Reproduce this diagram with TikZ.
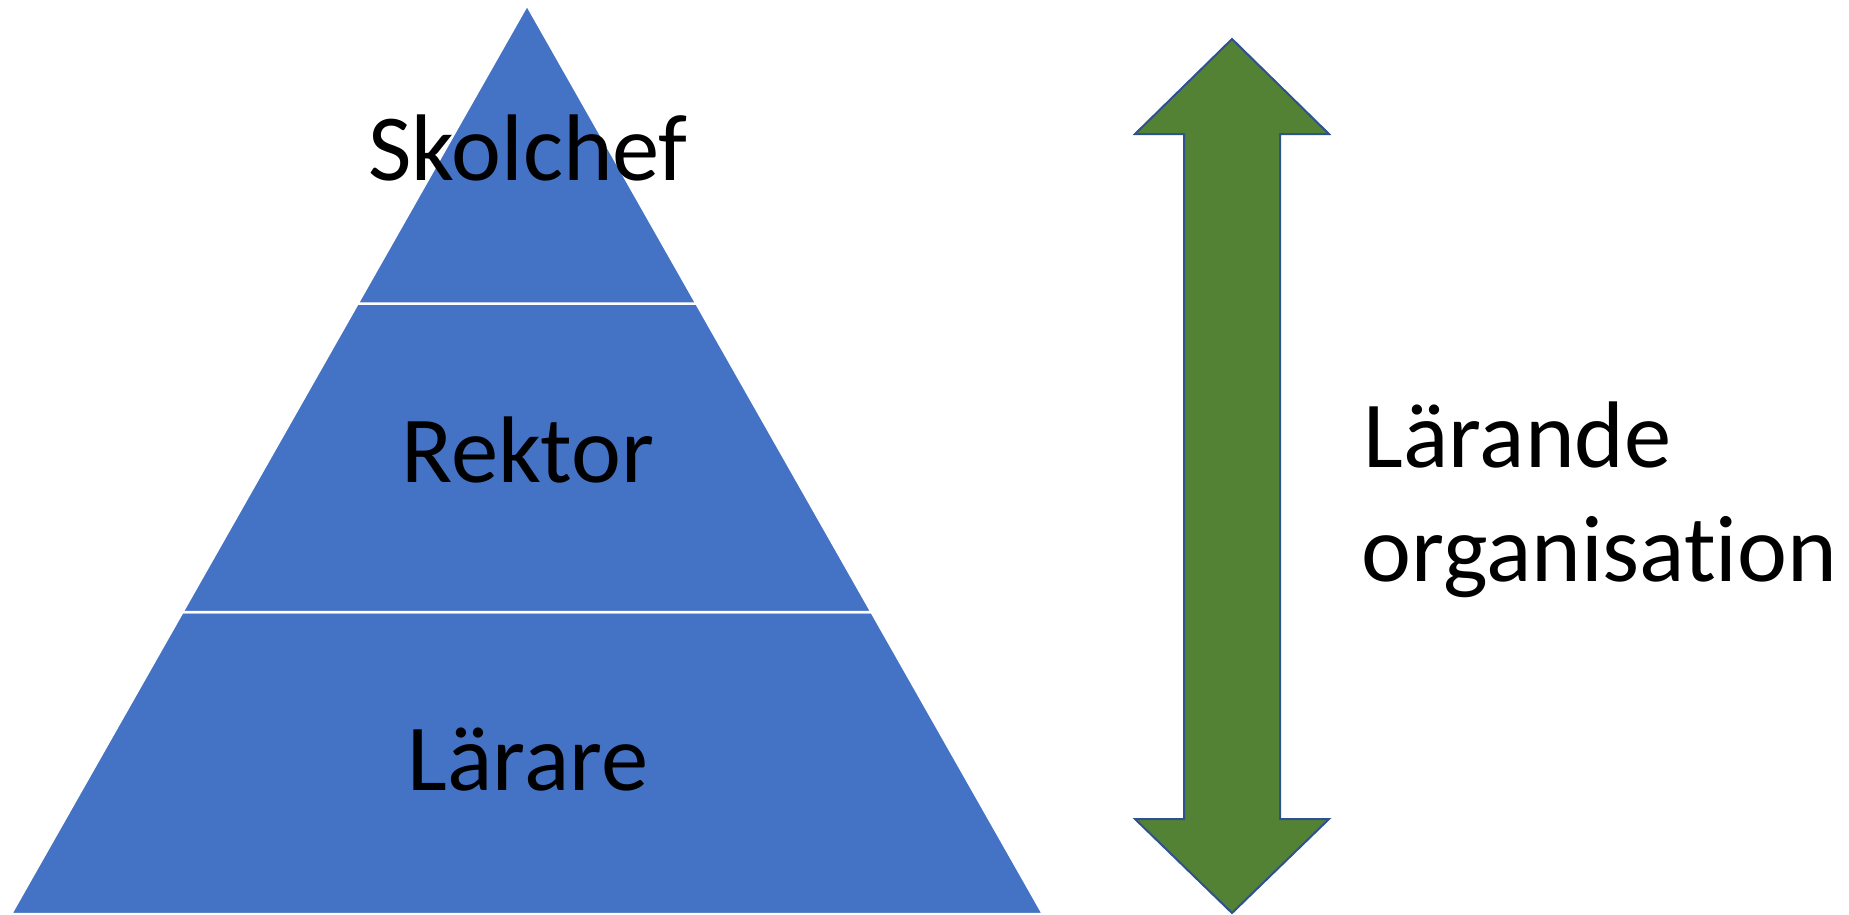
\documentclass[tikz,border=0pt]{standalone}
\usepackage{fontspec}
\setmainfont{Carlito}[Ligatures=NoCommon]
\usetikzlibrary{calc}
\definecolor{pyrblue}{HTML}{4472C4}
\definecolor{arrgreen}{HTML}{548235}
\definecolor{arrline}{HTML}{2F528F}
\begin{document}
\begin{tikzpicture}
			[x=0.01cm,y=-0.01cm,
			level/.style={fill=pyrblue,draw=white,line width=0.025cm,line join=miter},
			label/.style={anchor=base,inner sep=0pt,font=\fontsize{26.9}{32.4}\selectfont},
			bigarrow/.style={fill=arrgreen,draw=arrline,line width=0.02cm,line join=miter}]
			\useasboundingbox (0,0) rectangle (1849,914);
			% pyramid
			\coordinate (top) at (527,5);
			\coordinate (bl) at (11,914);
			\coordinate (br) at (1043,914);
			\coordinate (l1) at ($(top)!0.3284!(bl)$);
			\coordinate (r1) at ($(top)!0.3284!(br)$);
			\coordinate (l2) at ($(top)!0.6678!(bl)$);
			\coordinate (r2) at ($(top)!0.6678!(br)$);
			\fill[pyrblue] (top) -- (bl) -- (br) -- cycle;
			\draw[level] (l2) -- (r2) -- (br) -- (bl) -- cycle;
			\draw[level] (l1) -- (r1) -- (r2) -- (l2) -- cycle;
			\draw[level] (top) -- (r1) -- (l1) -- cycle;
			\node[label] (chef) at (528,180) {Skolchef};
			\node[label] (rektor) at (528,482) {Rektor};
			\node[label] (larare) at (528,790) {Lärare};
			% arrow
			\draw[bigarrow] (1232,39) -- (1329,134) -- (1280,134) -- (1280,819)
			-- (1329,819) -- (1232,913) -- (1135,819) -- (1184,819)
			-- (1184,134) -- (1135,134) -- cycle;
			\node[label,anchor=base west] (larande) at (1363,467) {Lärande};
			\node[label,anchor=base west] (org) at (1361,581) {organisation};
		\end{tikzpicture}
\end{document}
